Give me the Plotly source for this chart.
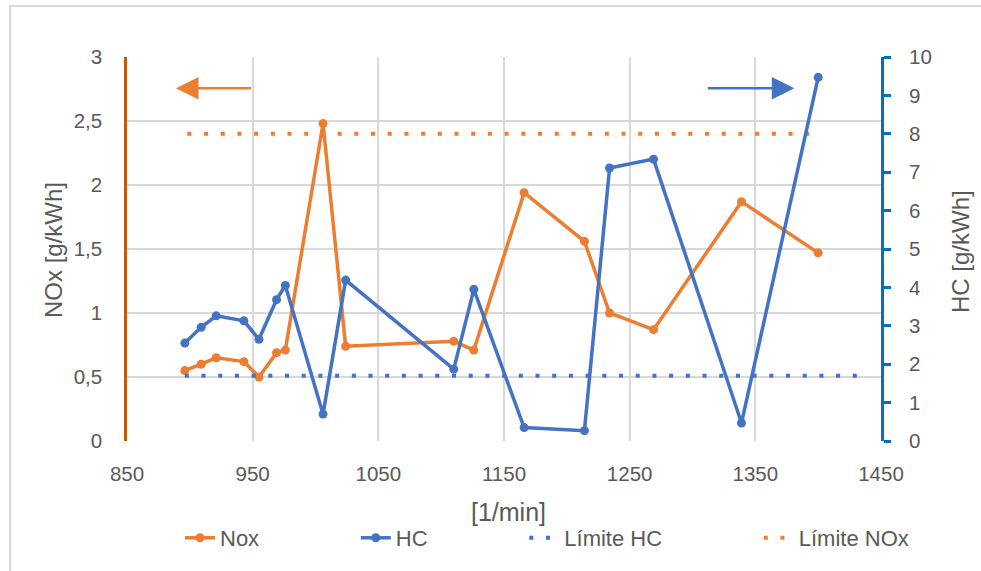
import plotly.graph_objects as go

rpm = [896, 909, 921, 943, 955, 969, 976, 1006, 1024, 1110, 1126, 1166, 1214, 1234, 1269, 1339, 1400]
nox = [0.55, 0.60, 0.65, 0.62, 0.50, 0.69, 0.71, 2.48, 0.74, 0.78, 0.71, 1.94, 1.56, 1.00, 0.87, 1.87, 1.47]
hc = [2.55, 2.96, 3.26, 3.13, 2.65, 3.68, 4.05, 0.70, 4.19, 1.87, 3.95, 0.35, 0.27, 7.11, 7.34, 0.47, 9.47]

lim_hc_x = [896, 1440]
lim_hc = [1.7, 1.7]
lim_nox_x = [898, 1400]
lim_nox = [2.4, 2.4]

names = ["Nox", "HC", "Límite HC", "Límite NOx"]

ORANGE = "#ED7D31"
BLUE = "#4472C4"
GRID = "#D9D9D9"
TXT = "#595959"
FONT = "Liberation Sans"

W, H = 981, 571
L, R, T, B = 127, 100, 57, 130
pw, ph = W - L - R, H - T - B

def px(xp):
    return (xp - L) / pw

def py(yp):
    return (H - B - yp) / ph

NB = "\u00a0"
pads = [15, 15, 15, 0]
labels = [n + NB * p for n, p in zip(names, pads)]

fig = go.Figure()
fig.add_trace(go.Scatter(x=rpm, y=nox, name=labels[0], mode="lines+markers",
                         line=dict(color=ORANGE, width=3.5), marker=dict(size=9, color=ORANGE), yaxis="y"))
fig.add_trace(go.Scatter(x=rpm, y=hc, name=labels[1], mode="lines+markers",
                         line=dict(color=BLUE, width=3.5), marker=dict(size=9, color=BLUE), yaxis="y2"))
fig.add_trace(go.Scatter(x=lim_hc_x, y=lim_hc, name=labels[2], mode="lines",
                         line=dict(color=BLUE, width=4, dash="4px,12.7px"), yaxis="y2"))
fig.add_trace(go.Scatter(x=lim_nox_x, y=lim_nox, name=labels[3], mode="lines",
                         line=dict(color=ORANGE, width=4, dash="4px,12.7px"), yaxis="y"))

fig.update_layout(
    width=W, height=H,
    margin=dict(l=L, r=R, t=T, b=B, autoexpand=False),
    paper_bgcolor="white", plot_bgcolor="white",
    separators=",.",
    font=dict(family=FONT, size=20, color=TXT),
    showlegend=True,
    legend=dict(orientation="h", x=px(180), xanchor="left", y=py(538), yanchor="middle",
                font=dict(size=22, color=TXT), traceorder="normal"),
    xaxis=dict(range=[850, 1450], tick0=850, dtick=100, showgrid=True, gridcolor=GRID, gridwidth=2,
               zeroline=False, showline=False, ticks="", ticklabelstandoff=18,
               tickfont=dict(size=20.5, color=TXT)),
    yaxis=dict(range=[0, 3], dtick=0.5, showgrid=True, gridcolor=GRID, gridwidth=2, zeroline=False,
               showline=True, linecolor="#C65911", linewidth=2.5, ticks="", ticklabelstandoff=18,
               tickfont=dict(size=20.5, color=TXT)),
    yaxis2=dict(range=[0, 10], dtick=1, overlaying="y", side="right", showgrid=False, zeroline=False,
                showline=True, linecolor="#0070C0", linewidth=3, ticks="outside", ticklen=7,
                tickcolor="#0070C0", tickwidth=3, ticklabelstandoff=14,
                tickfont=dict(size=20.5, color=TXT)),
    shapes=[dict(type="rect", xref="paper", yref="paper", x0=px(10), x1=px(990), y0=py(590), y1=py(6),
                 line=dict(color=GRID, width=2), layer="below")],
    annotations=[
        dict(text="NOx [g/kWh]", xref="paper", yref="paper", x=px(53), y=py(250), textangle=-90,
             showarrow=False, font=dict(size=24, color=TXT), xanchor="center", yanchor="middle"),
        dict(text="HC [g/kWh]", xref="paper", yref="paper", x=px(960), y=py(252), textangle=-90,
             showarrow=False, font=dict(size=24, color=TXT), xanchor="center", yanchor="middle"),
        dict(text="[1/min]", xref="paper", yref="paper", x=px(509), y=py(512),
             showarrow=False, font=dict(size=25, color=TXT), xanchor="center", yanchor="middle"),
        dict(text="", xref="x", yref="y", axref="x", ayref="y", x=889, y=2.755, ax=950, ay=2.755,
             showarrow=True, arrowhead=2, arrowsize=1.8, arrowwidth=2.5, arrowcolor=ORANGE),
        dict(text="", xref="x", yref="y", axref="x", ayref="y", x=1381, y=2.755, ax=1311, ay=2.755,
             showarrow=True, arrowhead=2, arrowsize=1.8, arrowwidth=2.5, arrowcolor=BLUE),
    ],
)

fig.write_html("out.html")
